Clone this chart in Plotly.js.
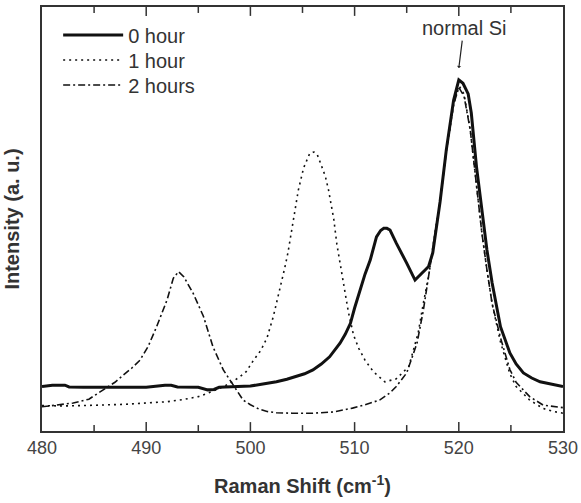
<!DOCTYPE html>
<html>
<head>
<meta charset="utf-8">
<script src="https://cdn.plot.ly/plotly-3.0.1.min.js"></script>
<style>html,body{margin:0;padding:0;background:#fff;}#chart{width:581px;height:503px;}</style>
</head>
<body>
<div id="chart"></div>
<script>
// 0 hour
const x0 = [480, 481, 482.2, 482.6, 484, 486, 488, 490, 491.8, 492.4, 493, 495, 495.9, 496.5, 497, 498, 499, 500, 501.2, 502.5, 503.5, 504.4, 505.2, 506, 506.8, 507.6, 508.1, 508.6, 509.1, 509.6, 510, 510.5, 511, 511.5, 512.1, 512.5, 512.8, 513.1, 513.4, 514, 514.5, 515, 515.8, 516.5, 517.1, 517.5, 517.9, 518.2, 518.8, 519.5, 520, 520.4, 520.9, 521.2, 521.7, 522.2, 522.7, 523.2, 524, 524.9, 525.5, 526.2, 527, 527.8, 529, 530];
const y0 = [10.5, 10.8, 10.8, 10.4, 10.3, 10.3, 10.3, 10.3, 10.8, 10.8, 10.4, 10.3, 9.7, 9.8, 10.3, 10.4, 10.5, 10.6, 11.1, 11.6, 12.2, 12.8, 13.5, 14.4, 15.8, 17.5, 19, 20.7, 22.8, 25.4, 29, 33.3, 37, 40.3, 45.8, 47.3, 47.8, 47.8, 47.4, 44.3, 42, 39.6, 35.6, 37.2, 38.8, 42, 49, 54, 66.3, 78, 82.8, 82, 79.5, 75, 62.3, 52.1, 42.7, 34.9, 24.6, 18.4, 15.8, 13.7, 12.5, 11.6, 11, 10.5];
// 1 hour
const x1 = [480, 482, 484, 486, 488, 490, 492, 493.5, 495, 496, 497, 498, 499, 499.6, 500.3, 501, 501.6, 502.2, 502.8, 503.3, 503.6, 504, 504.3, 504.6, 505.1, 505.7, 506.1, 506.4, 506.8, 507.2, 507.5, 508, 508.3, 508.6, 508.9, 509.1, 509.4, 509.9, 510.4, 511, 511.8, 512.9, 514, 515.2, 516.1, 516.6, 517.1, 517.6, 518.2, 518.8, 519.5, 520, 520.5, 521.1, 521.7, 522.2, 522.7, 523.2, 524, 524.9, 525.5, 526.8, 528.1, 529.1, 530];
const y1 = [6.0, 5.9, 6.0, 6.1, 6.3, 6.6, 6.9, 7.4, 8.1, 9, 10, 11.2, 12.8, 14, 16.7, 19, 22, 27, 33, 38.5, 42, 48, 53, 56.8, 62, 65.5, 65.8, 65.3, 62.7, 60, 56.8, 50, 44, 39.5, 36, 32, 28.1, 22.6, 19.5, 16.7, 14, 11.6, 12.3, 15.2, 23.1, 30.2, 36.4, 45, 54, 66, 77, 81.5, 79.5, 71, 58, 47, 38, 30, 21, 13.5, 10.5, 7.3, 5.3, 4.6, 4.2];
// 2 hours
const x2 = [480, 481.5, 483, 484.5, 486.2, 487, 487.8, 488.6, 489.4, 490.2, 491, 492, 492.6, 493.1, 493.6, 494.5, 495.5, 496.4, 497.4, 498.4, 499.3, 500, 500.8, 501.6, 502.5, 504, 506, 508, 509.8, 511, 512.4, 513.4, 514, 515, 516, 516.6, 517.1, 517.6, 518.2, 518.8, 519.5, 520, 520.5, 521.1, 521.7, 522.2, 522.7, 523.2, 524, 524.9, 525.5, 526.8, 528.1, 529.1, 530];
const y2 = [5.7, 6.2, 6.6, 7.5, 10.1, 11.5, 13.2, 14.8, 16.7, 20, 24.6, 30.9, 36, 37.6, 36.4, 32.5, 27, 19.9, 14.4, 10.8, 7.3, 6.2, 5.2, 4.6, 4.3, 4.2, 4.2, 4.5, 5.4, 6.2, 7.3, 9, 10.5, 13.7, 20.8, 28.5, 36.4, 45, 54, 66, 77, 81, 79, 71, 58, 47, 38, 30, 22, 14.5, 11.5, 8.1, 6.1, 5.7, 5.5];
const seriesNames = ["0 hour", "1 hour", "2 hours"];
const majorTicks = [480, 490, 500, 510, 520, 530];
const minorTicks = [485, 495, 505, 515, 525];
const peakLabel = "normal Si";
const peakX = 520;
const peakY = 85.6;
const yRange = [0, 100];

// inside tick marks (bottom and top frame), built from the tick arrays through the axes
function tickPath(vals, frac) {
  const len = (yRange[1] - yRange[0]) * frac;
  const xs = [], ys = [];
  vals.forEach(v => {
    xs.push(v, v, null, v, v, null);
    ys.push(yRange[0], yRange[0] + len, null, yRange[1], yRange[1] - len, null);
  });
  return {xs, ys};
}
const majT = tickPath(majorTicks.slice(1, -1), 0.021);
const minT = tickPath(minorTicks, 0.014);

const traces = [
  {x: majT.xs.concat(minT.xs), y: majT.ys.concat(minT.ys), mode: "lines", showlegend: false,
   hoverinfo: "skip", line: {color: "#333", width: 1.5}, cliponaxis: false},
  {x: x0, y: y0, name: seriesNames[0], legend: "legend", mode: "lines", line: {color: "#111", width: 3}},
  {x: x1, y: y1, name: seriesNames[1], legend: "legend2", mode: "lines", line: {color: "#111", width: 1.6, dash: "2px,4px"}},
  {x: x2, y: y2, name: seriesNames[2], legend: "legend3", mode: "lines", line: {color: "#111", width: 1.6, dash: "7px,3px,2px,3px"}}
];

function leg(yc) {
  return {x: 0.031, y: yc, xanchor: "left", yanchor: "middle", bgcolor: "rgba(0,0,0,0)",
          font: {size: 20, color: "#333"}, itemwidth: 60};
}

const layout = {
  width: 581, height: 503,
  margin: {l: 42, r: 18, t: 7, b: 72},
  paper_bgcolor: "#fff", plot_bgcolor: "#fff",
  font: {family: "Liberation Sans, Arial, sans-serif", color: "#333"},
  showlegend: true,
  legend: leg(0.934), legend2: leg(0.875), legend3: leg(0.816),
  xaxis: {range: [480, 530], tickmode: "array", tickvals: majorTicks, ticktext: majorTicks.map(String),
          ticks: "", showline: true, linecolor: "#333", linewidth: 1.5, mirror: true,
          showgrid: false, zeroline: false, tickfont: {size: 18, color: "#444"},
          title: {text: "<b>Raman Shift (cm<sup>-1</sup>)</b>", font: {size: 20, color: "#333"}, standoff: 22}},
  yaxis: {range: yRange, showticklabels: false, ticks: "", showline: true, linecolor: "#333",
          linewidth: 1.5, mirror: true, showgrid: false, zeroline: false,
          title: {text: "<b>Intensity (a. u.)</b>", font: {size: 20, color: "#333"}, standoff: 15}},
  annotations: [{x: peakX, y: peakY, xref: "x", yref: "y", text: peakLabel, showarrow: true,
                 ax: 5, ay: -40, arrowhead: 1, arrowsize: 0.6, arrowwidth: 1.2, arrowcolor: "#222",
                 font: {size: 20, color: "#333"}}]
};

Plotly.newPlot("chart", traces, layout, {displayModeBar: false});
</script>
</body>
</html>
